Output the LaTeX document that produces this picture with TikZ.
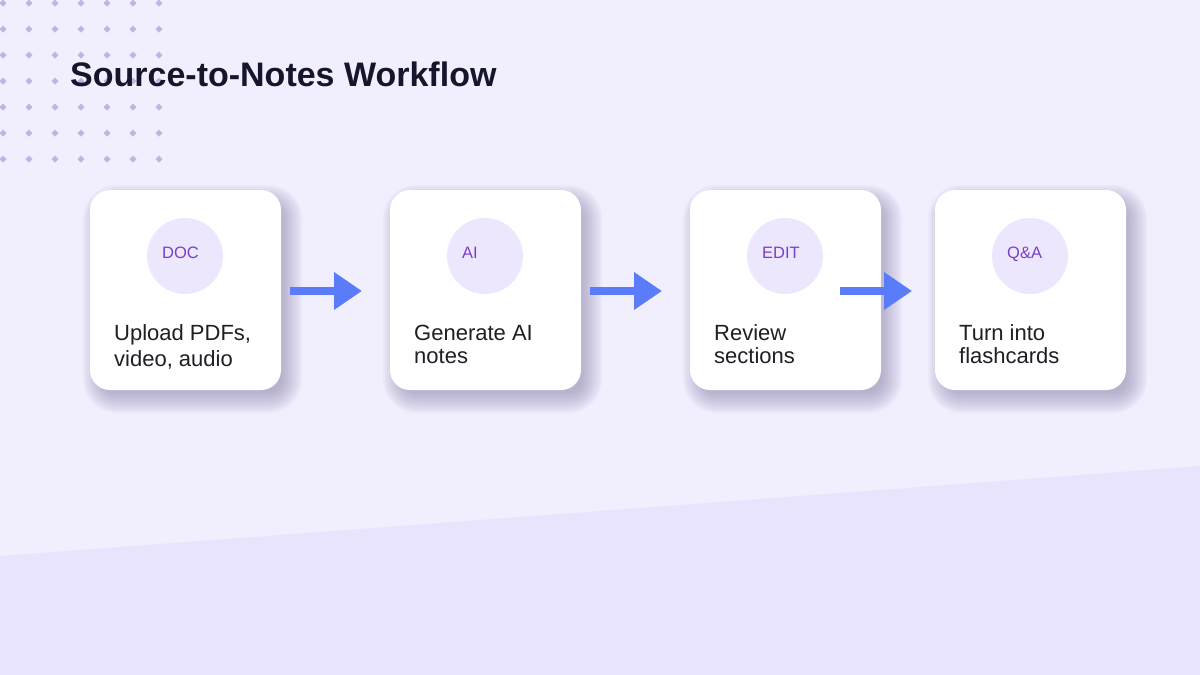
\documentclass[tikz,border=0pt]{standalone}
\usepackage{fontspec}
\setmainfont{Liberation Sans}
\usetikzlibrary{arrows.meta}
\definecolor{bgtop}{HTML}{F1EEFE}
\definecolor{bgbot}{HTML}{E9E4FD}
\definecolor{dotc}{HTML}{BFB4E2}
\definecolor{titlec}{HTML}{15152B}
\definecolor{bodyc}{HTML}{1E1E24}
\definecolor{labelc}{HTML}{7A3FC6}
\definecolor{circc}{HTML}{EDE7FD}
\definecolor{arrowc}{HTML}{5A7CF8}
\definecolor{shadowc}{HTML}{7D749F}
\tikzset{
  card/.style={fill=white, rounded corners=20pt, minimum width=191pt, minimum height=200pt, inner sep=0pt},
  iconcirc/.style={circle, fill=circc, minimum size=76pt, inner sep=0pt},
  iconlabel/.style={anchor=base west, inner sep=0pt, text=labelc, font=\fontsize{16.5}{20}\selectfont},
  bodytext/.style={anchor=base west, inner sep=0pt, text=bodyc, font=\fontsize{22}{26}\selectfont},
  flow/.style={draw=arrowc, line width=8pt, -{Triangle[length=28pt,width=36pt]}},
  dotd/.style={fill=dotc}
}
\newcommand{\cardshadow}[4]{%
  \foreach \k [evaluate=\k as \r using 20+\k] in {-6,-4,...,14}{%
    \fill[shadowc, opacity=0.055, rounded corners=\r pt]
      (#1+7-\k,#2+9-\k) rectangle (#3+7+\k,#4+9+\k);
  }%
}
\begin{document}
\begin{tikzpicture}[x=1pt,y=-1pt]
\useasboundingbox (0,0) rectangle (1200,675);
\fill[bgtop] (0,0) rectangle (1200,675);
\fill[bgbot] (0,556) -- (1200,466) -- (1200,675) -- (0,675) -- cycle;
% dot grid
\foreach \i in {0,...,6}{
  \foreach \j in {0,...,6}{
    \fill[dotd] ({3+26*\i},{3+26*\j-3.5}) -- ({3+26*\i+3.5},{3+26*\j}) -- ({3+26*\i},{3+26*\j+3.5}) -- ({3+26*\i-3.5},{3+26*\j}) -- cycle;
  }
}
% title
\node[anchor=base west, inner sep=0pt, text=titlec, font=\bfseries\fontsize{34}{40}\selectfont] (title) at (70,86) {Source-to-Notes Workflow};
% shadows
\cardshadow{90}{190}{281}{390}
\cardshadow{390}{190}{581}{390}
\cardshadow{690}{190}{881}{390}
\cardshadow{935}{190}{1126}{390}
% cards
\node[card] (c1) at (185.5,290) {};
\node[card] (c2) at (485.5,290) {};
\node[card] (c3) at (785.5,290) {};
\node[card] (c4) at (1030.5,290) {};
% icon circles
\node[iconcirc] (i1) at (185,256) {};
\node[iconcirc] (i2) at (485,256) {};
\node[iconcirc] (i3) at (785,256) {};
\node[iconcirc] (i4) at (1030,256) {};
\node[iconlabel] (l1) at (162,258) {DOC};
\node[iconlabel] (l2) at (462,258) {AI};
\node[iconlabel] (l3) at (762,258) {EDIT};
\node[iconlabel] (l4) at (1007,258) {Q\&A};
% body texts
\node[bodytext] (t1a) at (114,340.5) {Upload PDFs,};
\node[bodytext] (t1b) at (114,366.5) {video, audio};
\node[bodytext] (t2a) at (414,340.5) {Generate AI};
\node[bodytext] (t2b) at (414,363.5) {notes};
\node[bodytext] (t3a) at (714,340.5) {Review};
\node[bodytext] (t3b) at (714,363.5) {sections};
\node[bodytext] (t4a) at (959,340.5) {Turn into};
\node[bodytext] (t4b) at (959,363.5) {flashcards};
% arrows
\coordinate (a1s) at (290,291); \coordinate (a1e) at (362,291);
\coordinate (a2s) at (590,291); \coordinate (a2e) at (662,291);
\coordinate (a3s) at (840,291); \coordinate (a3e) at (912,291);
\draw[flow] (a1s) -- (a1e);
\draw[flow] (a2s) -- (a2e);
\draw[flow] (a3s) -- (a3e);
\end{tikzpicture}
\end{document}
